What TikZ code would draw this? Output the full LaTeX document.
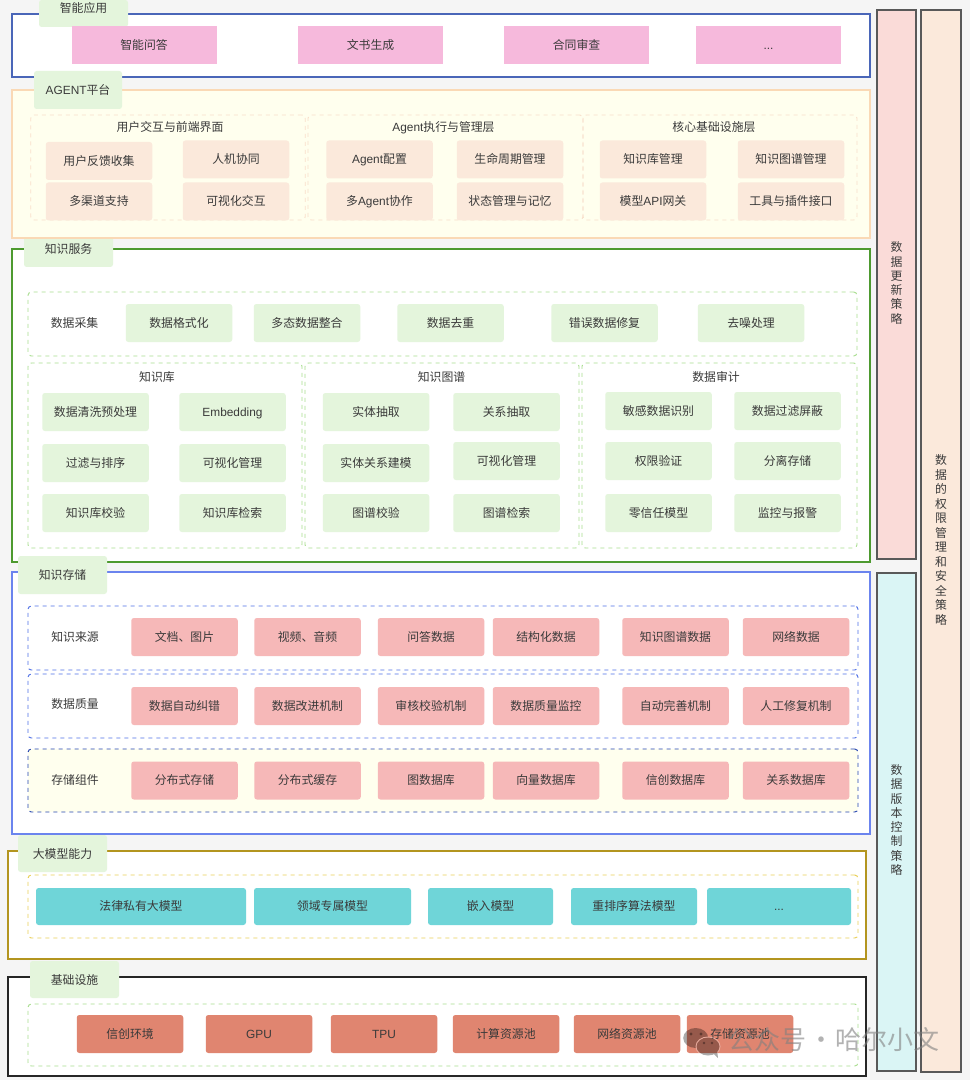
\documentclass[tikz,border=0pt]{standalone}
\usepackage{fontspec}
\setmainfont{Noto Sans CJK SC}
\newfontfamily\latfont{Liberation Sans}
\definecolor{pagegray}{HTML}{F5F5F5}
\definecolor{inkgray}{HTML}{3A3A3A}
\definecolor{tabgreen}{HTML}{E4F5DC}
\definecolor{apppink}{HTML}{F6B9DC}
\definecolor{agentcream}{HTML}{FFFFEE}
\definecolor{agentpeach}{HTML}{FBE9DB}
\definecolor{rosefill}{HTML}{F6B8B8}
\definecolor{tealfill}{HTML}{6FD5D8}
\definecolor{brickfill}{HTML}{E08570}
\definecolor{sidepink}{HTML}{FADBD8}
\definecolor{sideteal}{HTML}{DAF5F5}
\definecolor{lineblue}{HTML}{4A66B8}
\definecolor{linepeach}{HTML}{FAD9B5}
\definecolor{linegreen}{HTML}{4D9A2F}
\definecolor{linesky}{HTML}{6B84EE}
\definecolor{linegold}{HTML}{B3951F}
\definecolor{dashgreen}{HTML}{A9DE90}
\definecolor{dashblue}{HTML}{4F70E6}
\definecolor{dashnavy}{HTML}{2444B0}
\definecolor{dashyellow}{HTML}{E9CF55}
\definecolor{dashpeach}{HTML}{F9DFCB}
\newcommand{\threedots}{{\latfont ...}}
\begin{document}
\begin{tikzpicture}
      [%%%%%%%%%%%%%%%%%%%%%%%%%%%%%%
      x=0.75pt,y=-0.75pt,
      base/.style={inner sep=0pt,outer sep=0pt,text=inkgray,font=\fontsize{8.9}{10.7}\selectfont,text height=6.8pt,text depth=0pt},
      vert/.style={inner sep=0pt,outer sep=0pt,text=inkgray,align=center,font=\fontsize{8.9}{#1}\selectfont},
      wh/.style 2 args={minimum width=#1*0.75pt,minimum height=#2*0.75pt},
      panel/.style={base,rectangle,line width=0.8pt,fill=white},
      tabbox/.style={base,rectangle,rounded corners=2pt,fill=tabgreen},
      group/.style={base,rectangle,rounded corners=2.5pt,line width=0.7pt,dash pattern=on 3pt off 3pt},
      cell/.style={base,rectangle,rounded corners=2pt,wh={106.5}{38},text height=6.4pt},
      pinkbox/.style={base,rectangle,fill=apppink,wh={145}{38},text height=6.4pt},
      peachbox/.style={cell,fill=agentpeach},
      greenbox/.style={cell,fill=tabgreen},
      rosebox/.style={cell,fill=rosefill},
      tealcell/.style={cell,fill=tealfill},
      brickcell/.style={cell,fill=brickfill},
      side/.style={base,rectangle,draw=black!65,line width=0.9pt},
      ]%%%%%%%%%%%%%%%%%%%%%%%%%%%%%%

      \useasboundingbox[fill=pagegray] (0,0) rectangle (970,1080);

      % top layer
      \node[panel,draw=lineblue,wh={858}{63}] (appsec) at (441,45.5){};
      \node[tabbox,wh={89}{27}] (apptab) at (83.5,13.5){};
      \node[base] (apptxt) at (83.5,8){智能应用};
      \foreach \nm/\x/\txt in {app1/144/智能问答,app2/370.5/文书生成,app3/576.5/合同审查,app4/768.5/\threedots}{
        \node[pinkbox] (\nm) at (\x,45){\txt};
      }

      % knowledge service, its tab goes under the agent panel
      \node[panel,draw=linegreen,wh={858}{313}] (svcsec) at (441,405.5){};
      \node[tabbox,wh={89}{37}] (svctab) at (68.5,248.5){知识服务};

      % agent layer
      \node[panel,fill=agentcream,draw=linepeach,wh={858}{148}] (agentsec) at (441,164){};
      \node[tabbox,wh={88}{38}] (agenttab) at (78,90){{\latfont AGENT}平台};
      \foreach \nm/\x/\w/\tx/\txt in {ui/168/274.5/170/用户交互与前端界面,run/445.5/275/443.5/{\latfont Agent}执行与管理层,core/720/274/714/核心基础设施层}{
        \node[group,draw=dashpeach,wh={\w}{105}] (\nm) at (\x,167.5){};
        \node[base] (\nm txt) at (\tx,127){\txt};
      }
      \foreach \nm/\x/\y/\txt in {
        ui1/99/161/用户反馈收集,ui2/236/159.5/人机协同,ui3/99/201.5/多渠道支持,ui4/236/201.5/可视化交互,
        run1/379.5/159.5/{\latfont Agent}配置,run2/510/159.5/生命周期管理,run3/379.5/201.5/多{\latfont Agent}协作,run4/510/201.5/状态管理与记忆,
        core1/653/159.5/知识库管理,core2/791/159.5/知识图谱管理,core3/653/201.5/模型{\latfont API}网关,core4/791/201.5/工具与插件接口}{
        \node[peachbox] (\nm) at (\x,\y){\txt};
      }

      % knowledge service body
      \node[group,draw=dashgreen,wh={829}{64}] (collect) at (442.5,324){};
      \node[base] (collecttxt) at (74.5,322.5){数据采集};
      \foreach \nm/\x/\txt in {col1/179/数据格式化,col2/307/多态数据整合,col3/450.5/数据去重,col4/604.5/错误数据修复,col5/751/去噪处理}{
        \node[greenbox] (\nm) at (\x,323){\txt};
      }
      \foreach \nm/\x/\w/\tx/\txt in {kb/165/274/157/知识库,kg/442/274/441.5/知识图谱,audit/719.5/275/716/数据审计}{
        \node[group,draw=dashgreen,wh={\w}{185}] (\nm) at (\x,455.5){};
        \node[base] (\nm txt) at (\tx,376.5){\txt};
      }
      \foreach \nm/\x/\y/\txt in {
        kb1/95.5/412/数据清洗预处理,kb2/232.5/412/{\latfont Embedding},kb3/95.5/463/过滤与排序,kb4/232.5/463/可视化管理,kb5/95.5/513/知识库校验,kb6/232.5/513/知识库检索,
        kg1/376/412/实体抽取,kg2/506.5/412/关系抽取,kg3/376/463/实体关系建模,kg4/506.5/461/可视化管理,kg5/376/513/图谱校验,kg6/506.5/513/图谱检索,
        au1/658.5/411/敏感数据识别,au2/787.5/411/数据过滤屏蔽,au3/658.5/461/权限验证,au4/787.5/461/分离存储,au5/658.5/513/零信任模型,au6/787.5/513/监控与报警}{
        \node[greenbox] (\nm) at (\x,\y){\txt};
      }

      % knowledge storage
      \node[panel,draw=linesky,wh={858}{262}] (storesec) at (441,703){};
      \node[tabbox,wh={89}{38}] (storetab) at (62.5,575){知识存储};
      \node[group,draw=dashblue,wh={830}{64}] (src) at (443,638){};
      \node[group,draw=dashblue,wh={830}{64}] (qual) at (443,706){};
      \node[group,fill=agentcream,draw=dashnavy,wh={830}{63}] (comp) at (443,780.5){};
      \foreach \nm/\y/\txt in {srctxt/637/知识来源,qualtxt/704/数据质量,comptxt/780/存储组件}{
        \node[base] (\nm) at (75,\y){\txt};
      }
      \foreach \nm/\x/\txt in {src1/184.5/文档、图片,src2/307.5/视频、音频,src3/431/问答数据,src4/546/结构化数据,src5/675.5/知识图谱数据,src6/796/网络数据}{
        \node[rosebox] (\nm) at (\x,637){\txt};
      }
      \foreach \nm/\x/\txt in {qual1/184.5/数据自动纠错,qual2/307.5/数据改进机制,qual3/431/审核校验机制,qual4/546/数据质量监控,qual5/675.5/自动完善机制,qual6/796/人工修复机制}{
        \node[rosebox] (\nm) at (\x,706){\txt};
      }
      \foreach \nm/\x/\txt in {comp1/184.5/分布式存储,comp2/307.5/分布式缓存,comp3/431/图数据库,comp4/546/向量数据库,comp5/675.5/信创数据库,comp6/796/关系数据库}{
        \node[rosebox] (\nm) at (\x,780.5){\txt};
      }

      % model layer
      \node[panel,draw=linegold,wh={858}{108}] (modelsec) at (437,905){};
      \node[tabbox,wh={89}{37}] (modeltab) at (62.5,853.5){大模型能力};
      \node[group,draw=dashyellow,wh={830}{63}] (models) at (443,906.5){};
      \foreach \nm/\x/\w/\txt in {m1/141/210/法律私有大模型,m2/332.5/157/领域专属模型,m3/490.5/125/嵌入模型,m4/634/126/重排序算法模型,m5/779/144/\threedots}{
        \node[tealcell,wh={\w}{37}] (\nm) at (\x,906.5){\txt};
      }

      % infrastructure
      \node[panel,draw=black!85,wh={858}{99}] (infrasec) at (437,1026.5){};
      \node[tabbox,wh={89}{37}] (infratab) at (74.5,979.5){基础设施};
      \node[group,draw=dashgreen,wh={830}{62}] (infra) at (443,1035){};
      \foreach \nm/\x/\txt in {hw1/130/信创环境,hw2/259/{\latfont GPU},hw3/384/{\latfont TPU},hw4/506/计算资源池,hw5/627/网络资源池,hw6/740/存储资源池}{
        \node[brickcell] (\nm) at (\x,1034){\txt};
      }

      % side bars
      \node[side,fill=sidepink,wh={39}{549}] (update) at (896.5,284.5){};
      \node[side,fill=sideteal,wh={39}{498}] (version) at (896.5,822){};
      \node[side,fill=agentpeach,wh={40}{1062}] (secure) at (941,541){};
      \node[vert=10.7] (updatetxt) at (896.5,283){数\\据\\更\\新\\策\\略};
      \node[vert=10.7] (versiontxt) at (896.5,820){数\\据\\版\\本\\控\\制\\策\\略};
      \node[vert=10.9] (securetxt) at (941,540){数\\据\\的\\权\\限\\管\\理\\和\\安\\全\\策\\略};

      % watermark
      \begin{scope}[transparency group,opacity=0.33]
        \fill[black] (695.7,1038) ellipse [x radius=12.5,y radius=10];
        \fill[white] (708,1046.5) ellipse [x radius=12.5,y radius=10];
        \fill[black] (708,1046.5) ellipse [x radius=11.5,y radius=9];
        \fill[black] (712,1052) -- (718,1058) -- (717,1050) -- cycle;
      \end{scope}
      \foreach \x/\y/\r in {691/1034/1.6,701/1034/1.6,704/1043/1.3,712/1043/1.3}{
        \fill[black,opacity=0.35] (\x,\y) circle (\r);
      }
      \node[inner sep=0pt,outer sep=0pt,text=black!50,opacity=0.6,font=\fontsize{19.5}{22}\selectfont] (mark) at (834,1040){公众号\hspace{0.05em}·\hspace{0.05em}哈尔小文};
    \end{tikzpicture}
\end{document}
